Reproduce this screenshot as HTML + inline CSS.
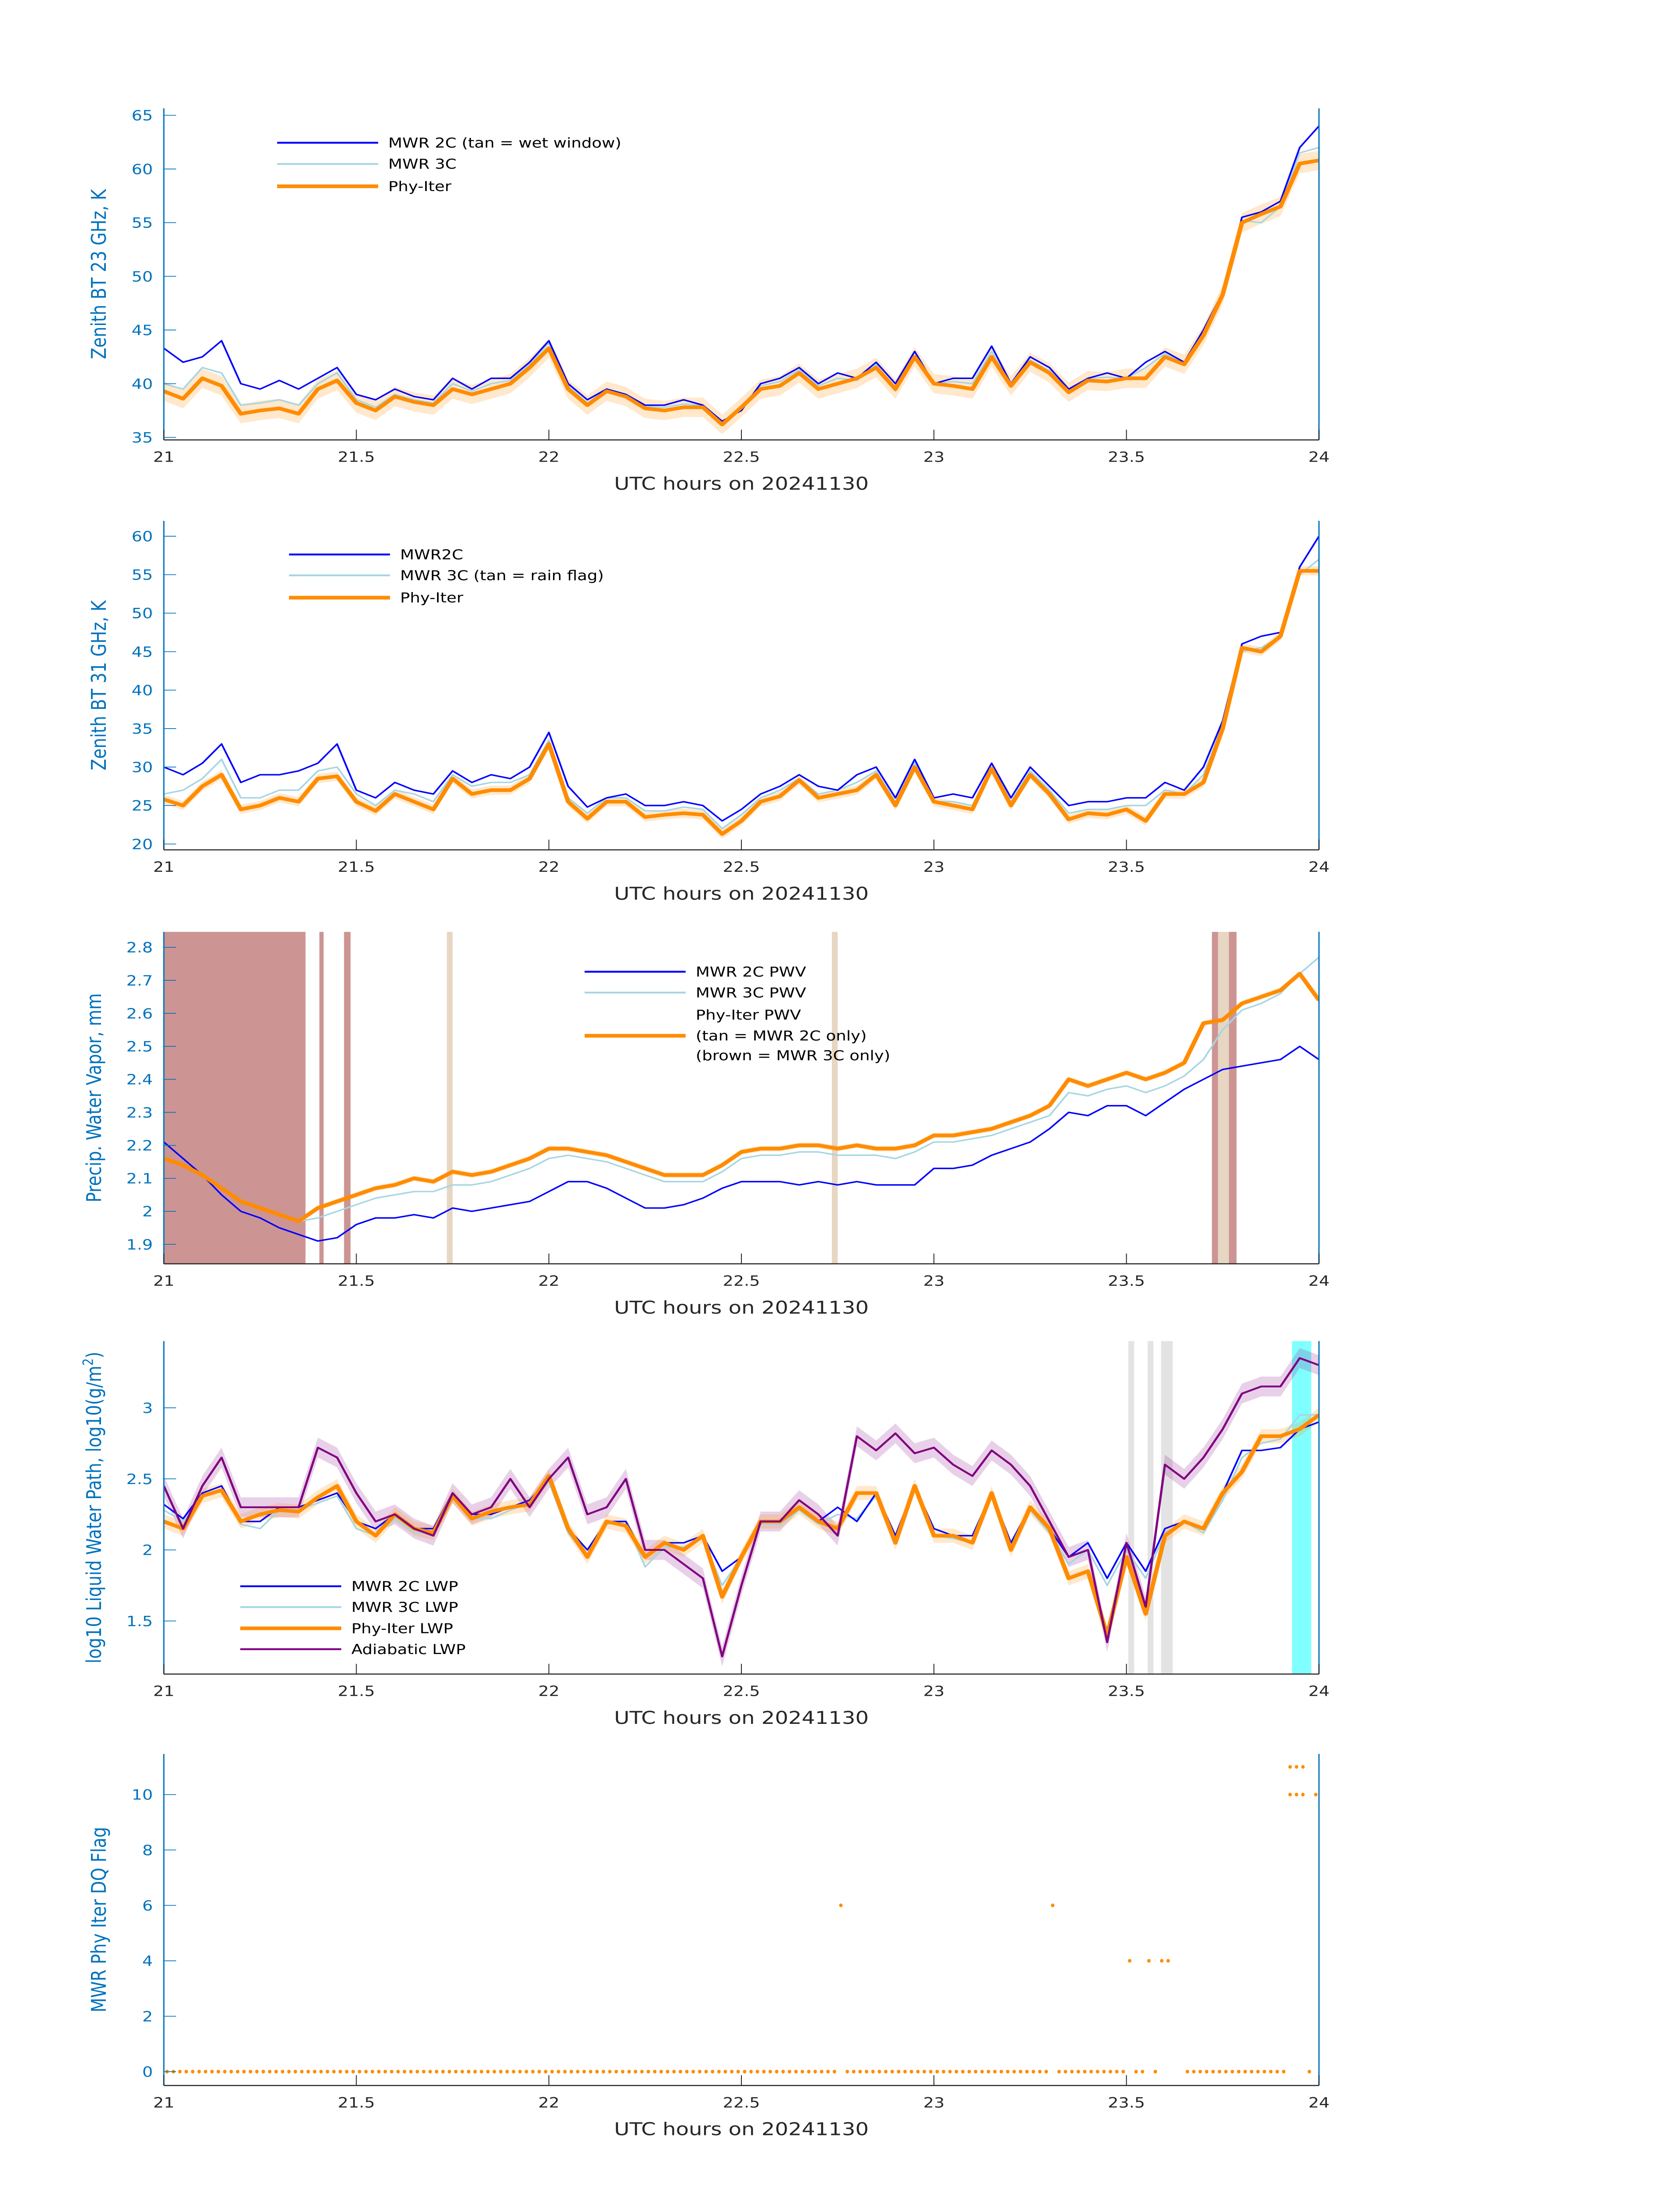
<!DOCTYPE html>
<html><head><meta charset="utf-8"><style>
html,body{margin:0;padding:0;background:#fff;width:100vw;height:100vh;overflow:hidden;}
svg{display:block;width:100vw;height:100vh;font-family:"DejaVu Sans","Liberation Sans",sans-serif;}
</style></head><body>
<svg id="fig" viewBox="0 0 3825 6000" preserveAspectRatio="none" xmlns="http://www.w3.org/2000/svg"></svg>
<script>
// ---------- data ----------
const xTicks=[21,21.5,22,22.5,23,23.5,24];
const xTickLabels=["21","21.5","22","22.5","23","23.5","24"];
// Panel 1: 23 GHz BT
const bt23_2c=[43.3,42,42.5,44,40,39.5,40.3,39.5,40.5,41.5,39,38.5,39.5,38.8,38.5,40.5,39.5,40.5,40.5,42,44,40,38.5,39.5,39,38,38,38.5,38,36.5,37.5,40,40.5,41.5,40,41,40.5,42,40,43,40,40.5,40.5,43.5,40,42.5,41.5,39.5,40.5,41,40.5,42,43,42,45,48.5,55.5,56,57,62,64];
const bt23_3c=[40,39.5,41.5,41,38,38.2,38.5,38,40,41,38.5,37.8,39,38.5,38.2,40,39.3,40,40.3,41.8,43.8,39.8,38.2,39.5,39,37.9,37.8,38.1,38,36.4,37.9,39.8,40.2,41.3,39.8,40.5,40.3,41.8,39.3,43,40,40.2,40,43,39.8,42.2,41.2,39.4,40.5,40.6,40.5,41.5,42.8,41.9,44.8,48.5,55.2,55,56.5,61.5,62];
const bt23_phy=[39.3,38.6,40.5,39.8,37.2,37.5,37.7,37.2,39.5,40.3,38.2,37.5,38.8,38.3,38,39.5,39,39.5,40,41.5,43.3,39.5,38,39.3,38.8,37.7,37.5,37.8,37.8,36.2,37.8,39.5,39.8,41,39.5,40,40.5,41.5,39.5,42.5,40,39.8,39.5,42.5,39.8,42,41,39.2,40.3,40.2,40.5,40.5,42.5,41.8,44.5,48.3,55,55.8,56.5,60.5,60.8];
// Panel 2: 31 GHz BT
const bt31_2c=[30,29,30.5,33,28,29,29,29.5,30.5,33,27,26,28,27,26.5,29.5,28,29,28.5,30,34.5,27.5,24.8,26,26.5,25,25,25.5,25,23,24.5,26.5,27.5,29,27.5,27,29,30,26,31,26,26.5,26,30.5,26,30,27.5,25,25.5,25.5,26,26,28,27,30,36,46,47,47.5,56,60];
const bt31_3c=[26.5,27,28.5,31,26,26,27,27,29.5,30,26.5,25,27,26.5,25.5,29,27.5,28,28,29,33.5,26,24,26,26,24.3,24.3,24.8,24.5,22,23.8,26,27,28.5,26.5,27,28,29.5,25.5,30.5,25.5,25.5,25,30,25.5,29.5,27,24,24.5,24.5,25,25,27,26.5,29,35.5,45,45.5,47,55,57];
const bt31_phy=[25.8,25,27.5,29,24.5,25,26,25.5,28.5,28.8,25.5,24.3,26.5,25.5,24.5,28.5,26.5,27,27,28.5,33,25.5,23.3,25.5,25.5,23.5,23.8,24,23.8,21.3,23,25.5,26.2,28.3,26,26.5,27,29,25,30,25.5,25,24.5,29.8,25,29,26.5,23.2,24,23.8,24.5,23,26.5,26.5,28,35,45.5,45,47,55.5,55.5];
// Panel 3: PWV
const pwv_2c=[2.21,2.16,2.11,2.05,2.00,1.98,1.95,1.93,1.91,1.92,1.96,1.98,1.98,1.99,1.98,2.01,2.0,2.01,2.02,2.03,2.06,2.09,2.09,2.07,2.04,2.01,2.01,2.02,2.04,2.07,2.09,2.09,2.09,2.08,2.09,2.08,2.09,2.08,2.08,2.08,2.13,2.13,2.14,2.17,2.19,2.21,2.25,2.30,2.29,2.32,2.32,2.29,2.33,2.37,2.40,2.43,2.44,2.45,2.46,2.50,2.46];
const pwv_3c=[2.16,2.14,2.11,2.07,2.03,2.01,1.99,1.97,1.98,2.0,2.02,2.04,2.05,2.06,2.06,2.08,2.08,2.09,2.11,2.13,2.16,2.17,2.16,2.15,2.13,2.11,2.09,2.09,2.09,2.12,2.16,2.17,2.17,2.18,2.18,2.17,2.17,2.17,2.16,2.18,2.21,2.21,2.22,2.23,2.25,2.27,2.29,2.36,2.35,2.37,2.38,2.36,2.38,2.41,2.46,2.55,2.61,2.63,2.66,2.72,2.77];
const pwv_phy=[2.16,2.14,2.11,2.07,2.03,2.01,1.99,1.97,2.01,2.03,2.05,2.07,2.08,2.10,2.09,2.12,2.11,2.12,2.14,2.16,2.19,2.19,2.18,2.17,2.15,2.13,2.11,2.11,2.11,2.14,2.18,2.19,2.19,2.20,2.20,2.19,2.20,2.19,2.19,2.20,2.23,2.23,2.24,2.25,2.27,2.29,2.32,2.40,2.38,2.40,2.42,2.40,2.42,2.45,2.57,2.58,2.63,2.65,2.67,2.72,2.64];
const brownStart=[21.0,21.404,21.468,23.722,23.766];
const brownEnd=[21.368,21.415,21.485,23.738,23.786];
const tanStart=[21.735,22.735,23.738];
const tanEnd=[21.75,22.75,23.766];
// Panel 4: LWP
const lwp_2c=[2.32,2.22,2.4,2.45,2.2,2.2,2.3,2.3,2.35,2.4,2.2,2.15,2.25,2.15,2.15,2.4,2.25,2.25,2.3,2.35,2.5,2.15,2.0,2.2,2.2,1.95,2.05,2.05,2.1,1.85,1.95,2.2,2.2,2.3,2.2,2.3,2.2,2.4,2.1,2.45,2.15,2.1,2.1,2.4,2.05,2.3,2.15,1.95,2.05,1.8,2.05,1.85,2.15,2.2,2.15,2.4,2.7,2.7,2.72,2.85,2.9];
const lwp_3c=[2.28,2.2,2.38,2.42,2.18,2.15,2.28,2.28,2.33,2.38,2.15,2.1,2.22,2.12,2.12,2.38,2.22,2.22,2.28,2.33,2.48,2.12,1.95,2.18,2.2,1.88,2.02,2.02,2.08,1.75,1.95,2.18,2.18,2.28,2.18,2.25,2.22,2.38,2.05,2.45,2.1,2.08,2.05,2.38,2.02,2.28,2.12,1.9,2.0,1.75,2.0,1.8,2.12,2.2,2.12,2.35,2.65,2.75,2.78,2.95,2.95];
const lwp_phy=[2.2,2.15,2.38,2.42,2.2,2.25,2.28,2.27,2.37,2.45,2.2,2.1,2.25,2.15,2.12,2.38,2.22,2.27,2.3,2.32,2.52,2.15,1.95,2.2,2.17,1.95,2.05,2.0,2.1,1.67,1.95,2.2,2.2,2.3,2.2,2.15,2.4,2.4,2.05,2.45,2.1,2.1,2.05,2.4,2.0,2.3,2.15,1.8,1.85,1.4,1.95,1.55,2.1,2.2,2.15,2.4,2.55,2.8,2.8,2.85,2.95];
const lwp_adi=[2.45,2.15,2.45,2.65,2.3,2.3,2.3,2.3,2.72,2.65,2.4,2.2,2.25,2.15,2.1,2.4,2.25,2.3,2.5,2.3,2.5,2.65,2.25,2.3,2.5,2.0,2.0,1.9,1.8,1.25,1.75,2.2,2.2,2.35,2.25,2.1,2.8,2.7,2.82,2.68,2.72,2.6,2.52,2.7,2.6,2.45,2.2,1.95,2.0,1.35,2.05,1.6,2.6,2.5,2.65,2.85,3.1,3.15,3.15,3.35,3.3];
const grayStart=[23.505,23.555,23.59];
const grayEnd=[23.52,23.57,23.62];
const cyanStart=[23.93];
const cyanEnd=[23.98];
// Panel 5: DQ flags, one per minute (t = 21 + (i+0.5)/60); null = missing
const flagIdxNonZero=[105,138,150,153,155,156,175,176,177,179];
const flagValNonZero=[6,6,4,4,4,4,11,11,11,10];
const flagIdxExtra=[175,176,177];
const flagValExtra=[10,10,10];
const flagIdxMissing=[157,158];
</script>
<script>
const NS="http://www.w3.org/2000/svg";
const svg=document.getElementById('fig');
const X0=373,X1=3003;
function xs(t){return X0+(t-21)/3*(X1-X0);}
function mk(tag,attrs,parent){const e=document.createElementNS(NS,tag);for(const k in attrs)e.setAttribute(k,attrs[k]);(parent||svg).appendChild(e);return e;}
function txt(s,attrs,parent){const e=mk('text',attrs,parent);e.textContent=s;return e;}
function ysFactory(top,bot,vmax,vmin){return v=>top+(vmax-v)/(vmax-vmin)*(bot-top);}
function tOf(i,n){return 21+i*3/(n-1);}
function pathOf(arr,ys){let d='';arr.forEach((v,i)=>{d+=(i?'L':'M')+xs(tOf(i,arr.length)).toFixed(1)+' '+ys(v).toFixed(1);});return d;}
function bandOf(arr,ys,h){let up='',dn=[];arr.forEach((v,i)=>{const x=xs(tOf(i,arr.length)).toFixed(1);up+=(i?'L':'M')+x+' '+ys(v+h).toFixed(1);dn.push('L'+x+' '+ys(v-h).toFixed(1));});return up+dn.reverse().join('')+'Z';}

function axes(g,top,bot,ys,yticks,ylabel,ylabX,name){
  const ax=mk('g',{},g);
  
  
  const yl=mk('line',{x1:X0,y1:top,x2:X0,y2:bot,stroke:'#0072BD','stroke-width':3},ax);
  
  
  const yr=mk('line',{x1:X1,y1:top,x2:X1,y2:bot,stroke:'#0072BD','stroke-width':3},ax);
  
  
  const xl=mk('line',{x1:X0,y1:bot,x2:X1,y2:bot,stroke:'#262626','stroke-width':3},ax);
  
  
  xTicks.forEach((t,i)=>{
    const tk=mk('line',{x1:xs(t),y1:bot,x2:xs(t),y2:bot-28,stroke:'#262626','stroke-width':2},ax);
    
    
    const lb=txt(xTickLabels[i],{x:xs(t),y:bot+60,'text-anchor':'middle','font-size':38,fill:'#262626'},ax);
    
    
  });
  yticks.forEach(v=>{
    const tk=mk('line',{x1:X0,y1:ys(v),x2:X0+28,y2:ys(v),stroke:'#0072BD','stroke-width':2},ax);
    
    
    const lb=txt(String(v),{x:X0-25,y:ys(v)+14,'text-anchor':'end','font-size':38,fill:'#0072BD'},ax);
    
    
  });
  const xt=txt('UTC hours on 20241130',{x:(X0+X1)/2,y:bot+136,'text-anchor':'middle','font-size':48,fill:'#262626'},ax);
  
  
  const cy=(top+bot)/2;
  const yt=mk('text',{x:ylabX,y:cy,'text-anchor':'middle','font-size':46,fill:'#0072BD',transform:`rotate(-90 ${ylabX} ${cy})`},ax);
  yt.innerHTML=ylabel;
  
  
}
function line(g,arr,ys,color,w,name){
  const p=mk('path',{d:pathOf(arr,ys),fill:'none',stroke:color,'stroke-width':w,'stroke-linejoin':'round'},g);
  
  
}
function band(g,arr,ys,h,color,name){
  const p=mk('path',{d:bandOf(arr,ys,h),fill:color,stroke:'none'},g);
  
  
}
function vspan(g,s,e,top,bot,color,name){
  const r=mk('rect',{x:xs(s),y:top,width:Math.max(2,xs(e)-xs(s)),height:bot-top,fill:color},g);
  
  
}
function legend(g,x,rows,name){
  const lg=mk('g',{},g);
  
  
  rows.forEach(r=>{
    if(r.color){const l=mk('line',{x1:x,y1:r.y,x2:x+230,y2:r.y,stroke:r.color,'stroke-width':r.w},lg);
      
      }
    const t=txt(r.label,{x:x+253,y:r.y+13,'font-size':37,fill:'#000'},lg);
    
    
  });
}
function clip(id,top,bot){const c=mk('clipPath',{id:id});mk('rect',{x:X0,y:top,width:X1-X0,height:bot-top},c);return `url(#${id})`;}

// ---- Panel 1 ----
(function(){
  const top=296,bot=1202,ys=ysFactory(top,bot,65.65,34.76);
  const g=mk('g',{'clip-path':clip('c1',top,bot)});
  
  
  band(g,bt23_phy,ys,0.9,'rgba(255,140,0,0.2)','phy-iter-uncertainty');
  line(g,bt23_3c,ys,'#a6d6e2',4,'mwr-3c-line');
  line(g,bt23_2c,ys,'#0000ff',4,'mwr-2c-line');
  line(g,bt23_phy,ys,'#ff8c00',10,'phy-iter-line');
  axes(svg,top,bot,ys,[35,40,45,50,55,60,65],'Zenith BT 23 GHz, K',241,'panel-1');
  legend(svg,631,[{y:390,color:'#0000ff',w:5,label:'MWR 2C (tan = wet window)'},{y:448,color:'#a6d6e2',w:5,label:'MWR 3C'},{y:509,color:'#ff8c00',w:10,label:'Phy-Iter'}],'legend-panel-1');
})();
// ---- Panel 2 ----
(function(){
  const top=1423,bot=2322,ys=ysFactory(top,bot,62,19.24);
  const g=mk('g',{'clip-path':clip('c2',top,bot)});
  
  
  band(g,bt31_phy,ys,0.6,'rgba(255,140,0,0.2)','phy-iter-uncertainty');
  line(g,bt31_3c,ys,'#a6d6e2',4,'mwr-3c-line');
  line(g,bt31_2c,ys,'#0000ff',4,'mwr-2c-line');
  line(g,bt31_phy,ys,'#ff8c00',10,'phy-iter-line');
  axes(svg,top,bot,ys,[20,25,30,35,40,45,50,55,60],'Zenith BT 31 GHz, K',241,'panel-2');
  legend(svg,658,[{y:1515,color:'#0000ff',w:5,label:'MWR2C'},{y:1572,color:'#a6d6e2',w:5,label:'MWR 3C (tan = rain flag)'},{y:1633,color:'#ff8c00',w:10,label:'Phy-Iter'}],'legend-panel-2');
})();
// ---- Panel 3 ----
(function(){
  const top=2546,bot=3453,ys=ysFactory(top,bot,2.847,1.841);
  const g=mk('g',{'clip-path':clip('c3',top,bot)});
  
  
  brownStart.forEach((s,i)=>vspan(g,s,brownEnd[i],top,bot,'#cd9494','brown-mwr3c-only-span'));
  tanStart.forEach((s,i)=>vspan(g,s,tanEnd[i],top,bot,'#e6d6c2','tan-mwr2c-only-span'));
  band(g,pwv_phy,ys,0.008,'rgba(255,140,0,0.25)','phy-iter-uncertainty');
  line(g,pwv_3c,ys,'#a6d6e2',4,'mwr-3c-pwv-line');
  line(g,pwv_2c,ys,'#0000ff',4,'mwr-2c-pwv-line');
  line(g,pwv_phy,ys,'#ff8c00',10,'phy-iter-pwv-line');
  axes(svg,top,bot,ys,[1.9,2,2.1,2.2,2.3,2.4,2.5,2.6,2.7,2.8],'Precip. Water Vapor, mm',230,'panel-3');
  legend(svg,1331,[{y:2655,color:'#0000ff',w:5,label:'MWR 2C PWV'},{y:2712,color:'#a6d6e2',w:5,label:'MWR 3C PWV'},{y:2773,label:'Phy-Iter PWV'},{y:2830,color:'#ff8c00',w:10,label:'(tan = MWR 2C only)'},{y:2884,label:'(brown = MWR 3C only)'}],'legend-panel-3');
})();
// ---- Panel 4 ----
(function(){
  const top=3664,bot=4574,ys=ysFactory(top,bot,3.47,1.126);
  const g=mk('g',{'clip-path':clip('c4',top,bot)});
  
  
  grayStart.forEach((s,i)=>vspan(g,s,grayEnd[i],top,bot,'#e3e3e3','gray-flag-span'));
  cyanStart.forEach((s,i)=>vspan(g,s,cyanEnd[i],top,bot,'#80ffff','cyan-flag-span'));
  band(g,lwp_adi,ys,0.07,'rgba(128,0,128,0.18)','adiabatic-uncertainty');
  band(g,lwp_phy,ys,0.05,'rgba(255,140,0,0.2)','phy-iter-uncertainty');
  line(g,lwp_3c,ys,'#a6d6e2',4,'mwr-3c-lwp-line');
  line(g,lwp_2c,ys,'#0000ff',4,'mwr-2c-lwp-line');
  line(g,lwp_phy,ys,'#ff8c00',10,'phy-iter-lwp-line');
  line(g,lwp_adi,ys,'#800080',5,'adiabatic-lwp-line');
  axes(svg,top,bot,ys,[1.5,2,2.5,3],'log10 Liquid Water Path, log10(g/m<tspan baseline-shift="super" font-size="32">2</tspan>)',230,'panel-4');
  legend(svg,547,[{y:4334,color:'#0000ff',w:5,label:'MWR 2C LWP'},{y:4391,color:'#a6d6e2',w:5,label:'MWR 3C LWP'},{y:4449,color:'#ff8c00',w:10,label:'Phy-Iter LWP'},{y:4506,color:'#800080',w:5,label:'Adiabatic LWP'}],'legend-panel-4');
})();
// ---- Panel 5 ----
(function(){
  const top=4792,bot=5698,ys=ysFactory(top,bot,11.47,-0.5);
  const g=mk('g',{});
  
  
  const flags=[];
  for(let i=0;i<180;i++)flags.push(0);
  flagIdxNonZero.forEach((k,j)=>{flags[k]=flagValNonZero[j];});
  flagIdxMissing.forEach(k=>{flags[k]=null;});
  function dot(i,v){
    const c=mk('ellipse',{cx:xs(21+(i+0.5)/60),cy:ys(v),rx:4,ry:5,fill:'#ff8c00'},g);
    
    
  }
  flags.forEach((v,i)=>{if(v!==null)dot(i,v);});
  flagIdxExtra.forEach((k,j)=>dot(k,flagValExtra[j]));
  axes(svg,top,bot,ys,[0,2,4,6,8,10],'MWR Phy Iter DQ Flag',241,'panel-5');
})();
</script>
</body></html>
